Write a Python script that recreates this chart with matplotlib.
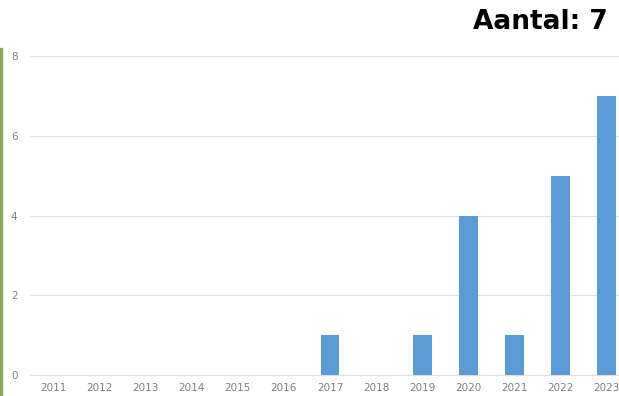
import matplotlib
matplotlib.use("Agg")
import matplotlib.pyplot as plt
from matplotlib.patches import Rectangle

years = ["2011", "2012", "2013", "2014", "2015", "2016", "2017",
         "2018", "2019", "2020", "2021", "2022", "2023"]
counts = [0, 0, 0, 0, 0, 0, 1, 0, 1, 4, 1, 5, 7]
title = "Aantal: 7"

fig = plt.figure(figsize=(6.19, 3.96), dpi=100)
ax = fig.add_axes([30/619, 1-375/396, 600/619, (375-56)/396])

x = list(range(len(years)))
ax.bar(x, counts, width=0.41, color="#5b9bd5", zorder=3)
ax.set_xlim(-0.5, len(years) - 0.5)
ax.set_ylim(0, 8)
ax.set_yticks([0, 2, 4, 6, 8])
ax.set_xticks(x)
ax.set_xticklabels(years)
ax.grid(axis="y", color="#e0e0e0", linewidth=0.8, zorder=0)
for s in ax.spines.values():
    s.set_visible(False)
ax.spines["bottom"].set_visible(True)
ax.spines["bottom"].set_color("#e0e0e0")
ax.tick_params(axis="both", length=0, labelsize=7.5, labelcolor="#7f7f7f")
ax.tick_params(axis="y", pad=9)
ax.tick_params(axis="x", pad=6)

fig.text(608/619, 1-22/396, title, ha="right", va="center",
         fontsize=19, fontweight="bold", color="black")

fig.patches.append(Rectangle((0, 0), 1.5/619, 348/396, transform=fig.transFigure,
                             color="#8aa85a", zorder=5))

fig.savefig("out.png", dpi=100)
